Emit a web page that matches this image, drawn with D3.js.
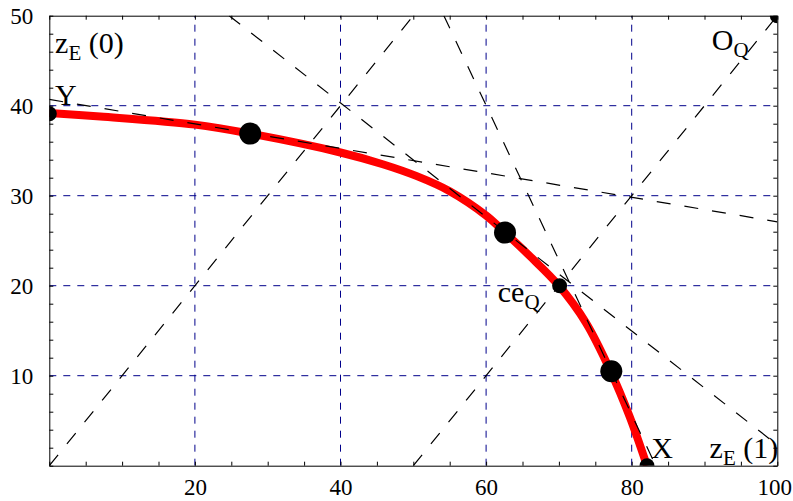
<!DOCTYPE html>
<html>
<head>
<meta charset="utf-8">
<script src="https://cdn.jsdelivr.net/npm/d3@7"></script>
<style>
  body { margin: 0; background: #fff; }
  svg { display: block; font-family: "Liberation Serif", "Times New Roman", serif; }
</style>
</head>
<body>
<svg id="chart" width="793" height="501"></svg>
<script>
// valores (coordenadas de datos)
const frontierX = [0, 7, 20, 27.6, 40, 45.8, 50.4, 55, 60, 62.6, 66, 70, 73.7, 77.1, 79.7, 82.1];
const frontierY = [39.2, 38.8, 37.9, 36.9, 34.8, 33.5, 32.2, 30.5, 27.8, 25.9, 23.3, 20, 15.9, 10.5, 5.5, 0];

// puntos grandes sobre la frontera
const bigX = [27.6, 62.6, 77.2];
const bigY = [36.9, 25.9, 10.5];

// puntos chicos: Y, ce_Q, X, O_Q
const smallX = [0, 70.1, 82.1, 100];
const smallY = [39.1, 20, 0, 50];

// rectas auxiliares (extremos)
const guideX1 = [0, 50, 0, 24.7, 54.2];
const guideY1 = [0, 0, 40.7, 50, 50];
const guideX2 = [50, 100, 100, 100, 83.3];
const guideY2 = [50, 50, 27.1, 2.3, 0];

const xTicks = [20, 40, 60, 80, 100];
const yTicks = [10, 20, 30, 40, 50];
const xGrid = [20, 40, 60, 80];
const yGrid = [10, 20, 30, 40];

// etiquetas: texto, subíndice, resto, posición en datos
const labels = [
  { main: 'z', sub: 'E', rest: ' (0)', x: 0.8, y: 45.9 },
  { main: 'Y', sub: '', rest: '', x: 0.8, y: 40.1 },
  { main: 'O', sub: 'Q', rest: '', x: 91.0, y: 46.2 },
  { main: 'ce', sub: 'Q', rest: '', x: 61.6, y: 18.2 },
  { main: 'X', sub: '', rest: '', x: 82.7, y: 0.9 },
  { main: 'z', sub: 'E', rest: ' (1)', x: 90.7, y: 0.9 }
];

const W = 793, H = 501;
const m = { top: 15.7, right: 15.7, bottom: 35.3, left: 49.3 };

const svg = d3.select('#chart');
const x = d3.scaleLinear().domain([0, 100]).range([m.left, W - m.right]);
const y = d3.scaleLinear().domain([0, 50]).range([H - m.bottom, m.top]);

svg.append('defs').append('clipPath').attr('id', 'plotClip')
  .append('rect')
  .attr('x', x(0)).attr('y', y(50))
  .attr('width', x(100) - x(0)).attr('height', y(0) - y(50));

const plot = svg.append('g').attr('clip-path', 'url(#plotClip)');

// rejilla azul punteada
plot.selectAll('line.vgrid').data(xGrid).join('line')
  .attr('class', 'vgrid')
  .attr('x1', d => x(d)).attr('x2', d => x(d))
  .attr('y1', y(0)).attr('y2', y(50))
  .attr('stroke', '#00008b').attr('stroke-width', 1)
  .attr('stroke-dasharray', '7,7');

plot.selectAll('line.hgrid').data(yGrid).join('line')
  .attr('class', 'hgrid')
  .attr('y1', d => y(d)).attr('y2', d => y(d))
  .attr('x1', x(0)).attr('x2', x(100))
  .attr('stroke', '#00008b').attr('stroke-width', 1)
  .attr('stroke-dasharray', '7,7');

// frontera roja
const pts = frontierX.map((v, i) => [v, frontierY[i]]);
plot.append('path')
  .datum(pts)
  .attr('d', d3.line().x(d => x(d[0])).y(d => y(d[1])).curve(d3.curveCatmullRom.alpha(0.5)))
  .attr('fill', 'none')
  .attr('stroke', '#ff0000')
  .attr('stroke-width', 8)
  .attr('stroke-linecap', 'butt');

// rectas negras discontinuas
plot.selectAll('line.guide').data(guideX1).join('line')
  .attr('class', 'guide')
  .attr('x1', (d, i) => x(guideX1[i])).attr('y1', (d, i) => y(guideY1[i]))
  .attr('x2', (d, i) => x(guideX2[i])).attr('y2', (d, i) => y(guideY2[i]))
  .attr('stroke', '#000').attr('stroke-width', 1.2)
  .attr('stroke-dasharray', '14,14');

// puntos
plot.selectAll('circle.big').data(bigX).join('circle')
  .attr('class', 'big')
  .attr('cx', (d, i) => x(bigX[i])).attr('cy', (d, i) => y(bigY[i]))
  .attr('r', 11).attr('fill', '#000');

plot.selectAll('circle.small').data(smallX).join('circle')
  .attr('class', 'small')
  .attr('cx', (d, i) => x(smallX[i])).attr('cy', (d, i) => y(smallY[i]))
  .attr('r', 7.5).attr('fill', '#000');

// etiquetas
const lab = svg.append('g');
labels.forEach(l => {
  const t = lab.append('text')
    .attr('x', x(l.x)).attr('y', y(l.y))
    .attr('font-size', 30).attr('fill', '#000');
  t.append('tspan').text(l.main);
  if (l.sub) t.append('tspan').attr('font-size', 21).attr('dy', 7).text(l.sub);
  if (l.rest) t.append('tspan').attr('dy', l.sub ? -7 : 0).attr('xml:space', 'preserve').text(l.rest);
});

// marco con marcas hacia dentro
const minorX = d3.range(0, 101, 5);
const minorY = d3.range(0, 51, 2);

function frameAxis(axis, pos, values, size, showLabels, fmtTicks) {
  const g = svg.append('g').attr('transform', pos)
    .call(axis.tickValues(values).tickSizeInner(-size).tickSizeOuter(0)
      .tickFormat(showLabels ? (d => fmtTicks.includes(d) ? d : '') : ''));
  g.select('.domain').attr('stroke', '#000');
  g.selectAll('.tick line').attr('stroke', '#000');
  g.selectAll('text').attr('font-size', 23).attr('fill', '#000')
    .attr('font-family', '"Liberation Serif", "Times New Roman", serif');
  return g;
}

const bottom = frameAxis(d3.axisBottom(x), `translate(0,${y(0)})`, minorX, 4, true, xTicks);
bottom.selectAll('text').attr('dy', null).attr('y', 29)
  .attr('x', d => d === 100 ? -3 : 0); // el "100" queda pegado al borde
frameAxis(d3.axisTop(x), `translate(0,${y(50)})`, minorX, 4, false, []);
const left = frameAxis(d3.axisLeft(y), `translate(${x(0)},0)`, minorY, 4, true, yTicks);
left.selectAll('text').attr('x', -16);
frameAxis(d3.axisRight(y), `translate(${x(100)},0)`, minorY, 4, false, []);
</script>
</body>
</html>
